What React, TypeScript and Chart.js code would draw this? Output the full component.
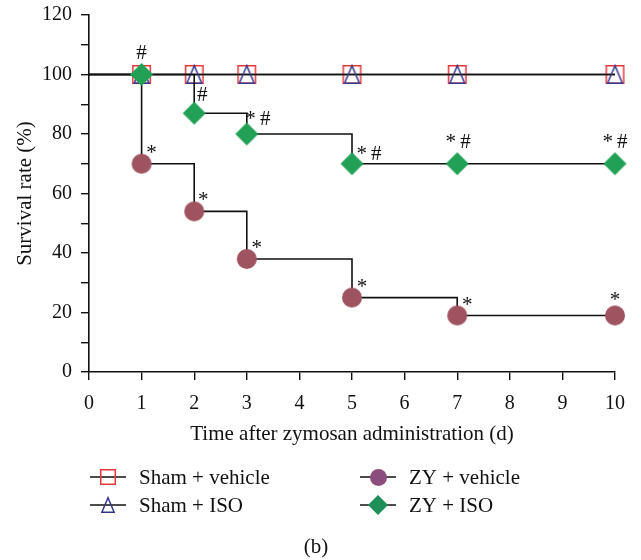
import React, { useEffect, useRef } from "react";
import { Chart, registerables } from "chart.js";

Chart.register(...registerables);

// ---------- data ----------
const days = [0, 1, 2, 3, 5, 7, 10];
const shamVehicle = [100, 100, 100, 100, 100, 100, 100];
const shamISO = [100, 100, 100, 100, 100, 100, 100];
const zyVehicle = [100, 70, 54, 38, 25, 19, 19];
const zyISO = [100, 100, 87, 80, 70, 70, 70];
const seriesLabels = ["Sham + vehicle", "Sham + ISO", "ZY + vehicle", "ZY + ISO"];
const zyVehicleMarks = ["", "*", "*", "*", "*", "*", "*"];
const zyISOMarks = ["", "#", "#", "*\u2009#", "*\u2009#", "*\u2009#", "*\u2009#"];
const xTitle = "Time after zymosan administration (d)";
const yTitle = "Survival rate (%)";
const panelLabel = "(b)";

// ---------- styles ----------
const FONT = '"Liberation Serif", "Times New Roman", serif';
const RED = "#e8363e";
const NAVY = "#35358c";
const MAUVE = "#9f525f";
const MAUVE_LEGEND = "#8b4d7c";
const GREEN = "#21a056";
const GREEN_LEGEND = "#1f8f58";

// annotation pixel offsets (style only)
const vehOffsets = [[0, 0], [10, -5], [9, -5], [10, -5], [10, -5], [10, -4], [0, -9]];
const isoOffsets = [[0, 0], [0, -16], [8, -12], [11, -9], [17, -4], [1, -16], [0, -16]];

type Shape = "square" | "triangle" | "circle" | "diamond";

function makeMarker(shape: Shape, size: number, color: string): HTMLCanvasElement {
  const pad = 2;
  const c = document.createElement("canvas");
  c.width = size + pad * 2;
  c.height = size + pad * 2;
  const g = c.getContext("2d")!;
  const s = size;
  const o = pad;
  g.lineWidth = 1.5;
  if (shape === "square") {
    g.strokeStyle = color;
    g.strokeRect(o + 0.75, o + 0.75, s - 1.5, s - 1.5);
  } else if (shape === "triangle") {
    g.strokeStyle = color;
    g.beginPath();
    g.moveTo(o + s / 2, o + 0.75);
    g.lineTo(o + s * 0.07 + 0.75, o + s - 0.75);
    g.lineTo(o + s * 0.93 - 0.75, o + s - 0.75);
    g.closePath();
    g.stroke();
  } else if (shape === "circle") {
    g.fillStyle = color;
    g.beginPath();
    g.arc(o + s / 2, o + s / 2, s / 2, 0, Math.PI * 2);
    g.fill();
  } else {
    g.fillStyle = color;
    g.beginPath();
    g.moveTo(o + s / 2, o);
    g.lineTo(o + s, o + s / 2);
    g.lineTo(o + s / 2, o + s);
    g.lineTo(o, o + s / 2);
    g.closePath();
    g.fill();
  }
  return c;
}

export default function App() {
  const ref = useRef<HTMLCanvasElement | null>(null);

  useEffect(() => {
    document.body.style.margin = "0";
    const canvas = ref.current!;
    const plotMarkers = [
      makeMarker("square", 19, RED),
      makeMarker("triangle", 19, NAVY),
      makeMarker("circle", 20, MAUVE),
      makeMarker("diamond", 23, GREEN),
    ];
    const legendMarkers = [
      makeMarker("square", 16, RED),
      makeMarker("triangle", 16, NAVY),
      makeMarker("circle", 17, MAUVE_LEGEND),
      makeMarker("diamond", 20, GREEN_LEGEND),
    ];
    const seriesData = [shamVehicle, shamISO, zyVehicle, zyISO];
    const orders = [3, 2, 1, 0];

    const datasets = seriesData.map((vals, i) => ({
      label: seriesLabels[i],
      data: vals.map((v, j) => ({ x: days[j], y: v })),
      borderColor: "#111111",
      borderWidth: 1.6,
      stepped: true as const,
      fill: false,
      pointStyle: plotMarkers[i] as any,
      pointRadius: (ctx: any) => (ctx.dataIndex === 0 ? 0 : 10),
      pointHoverRadius: (ctx: any) => (ctx.dataIndex === 0 ? 0 : 10),
      clip: false as const,
      order: orders[i],
    }));

    const annotationPlugin = {
      id: "marks",
      afterDatasetsDraw(chart: any) {
        const ctx = chart.ctx;
        ctx.save();
        ctx.fillStyle = "#111111";
        ctx.font = `21px ${FONT}`;
        ctx.textAlign = "center";
        ctx.textBaseline = "alphabetic";
        const sets: [number, string[], number[][]][] = [
          [2, zyVehicleMarks, vehOffsets],
          [3, zyISOMarks, isoOffsets],
        ];
        sets.forEach(([di, marks, offs]) => {
          const meta = chart.getDatasetMeta(di);
          meta.data.forEach((pt: any, j: number) => {
            if (!marks[j]) return;
            ctx.fillText(marks[j], pt.x + offs[j][0], pt.y + offs[j][1]);
          });
        });
        ctx.restore();
      },
    };

    const legendPlugin = {
      id: "customLegend",
      afterDraw(chart: any) {
        const ctx = chart.ctx;
        ctx.save();
        ctx.font = `21px ${FONT}`;
        ctx.fillStyle = "#111111";
        ctx.textBaseline = "middle";
        ctx.textAlign = "left";
        const cols = [108, 378];
        const rows = [477, 505];
        const layout = [
          [0, 0],
          [0, 1],
          [1, 0],
          [1, 1],
        ];
        layout.forEach(([col, row], i) => {
          const cx = cols[col];
          const cy = rows[row];
          ctx.strokeStyle = "#111111";
          ctx.lineWidth = 1.6;
          ctx.beginPath();
          ctx.moveTo(cx - 18, cy);
          ctx.lineTo(cx + 18, cy);
          ctx.stroke();
          const m = legendMarkers[i];
          ctx.drawImage(m, Math.round(cx - m.width / 2), Math.round(cy - m.height / 2));
          ctx.fillText(seriesLabels[i], cx + 31, cy + 1);
        });
        ctx.textAlign = "center";
        ctx.fillText(panelLabel, 316, 547);
        ctx.restore();
      },
    };

    const chart = new Chart(canvas, {
      type: "line",
      data: { datasets: datasets as any },
      options: {
        responsive: false,
        animation: false,
        events: [],
        layout: { padding: { left: 0, right: 26, top: 15, bottom: 108 } },
        plugins: {
          legend: { display: false },
          tooltip: { enabled: false },
        },
        scales: {
          x: {
            type: "linear",
            min: 0,
            max: 10,
            afterFit: (scale: any) => {
              scale.height = 80;
              scale.paddingLeft = 0;
              scale.paddingRight = 0;
            },
            ticks: {
              stepSize: 1,
              autoSkip: false,
              color: "#111111",
              font: { family: FONT, size: 20 },
              padding: 12,
            },
            grid: {
              drawOnChartArea: false,
              drawTicks: true,
              tickLength: 8,
              color: "#111111",
              lineWidth: 1.4,
            },
            border: { display: true, color: "#111111", width: 1.6 },
            title: {
              display: true,
              text: xTitle,
              color: "#111111",
              font: { family: FONT, size: 21 },
              padding: { top: 0, bottom: 5 },
            },
          },
          y: {
            type: "linear",
            min: 0,
            max: 120,
            afterFit: (scale: any) => {
              scale.width = 89;
              scale.paddingTop = 0;
              scale.paddingBottom = 0;
            },
            ticks: {
              stepSize: 10,
              autoSkip: false,
              color: "#111111",
              font: { family: FONT, size: 20 },
              padding: 9,
              callback: (v: any) => (Number(v) % 20 === 0 ? String(v) : ""),
            },
            grid: {
              drawOnChartArea: false,
              drawTicks: true,
              tickLength: 8,
              color: "#111111",
              lineWidth: 1.4,
            },
            border: { display: true, color: "#111111", width: 1.6 },
            title: {
              display: true,
              text: yTitle,
              color: "#111111",
              font: { family: FONT, size: 21 },
              padding: { top: 13, bottom: 0 },
            },
          },
        },
      },
      plugins: [annotationPlugin, legendPlugin],
    });
    return () => chart.destroy();
  }, []);

  return (
    <div style={{ width: 641, height: 560 }}>
      <canvas ref={ref} width={641} height={560} style={{ display: "block" }} />
    </div>
  );
}
